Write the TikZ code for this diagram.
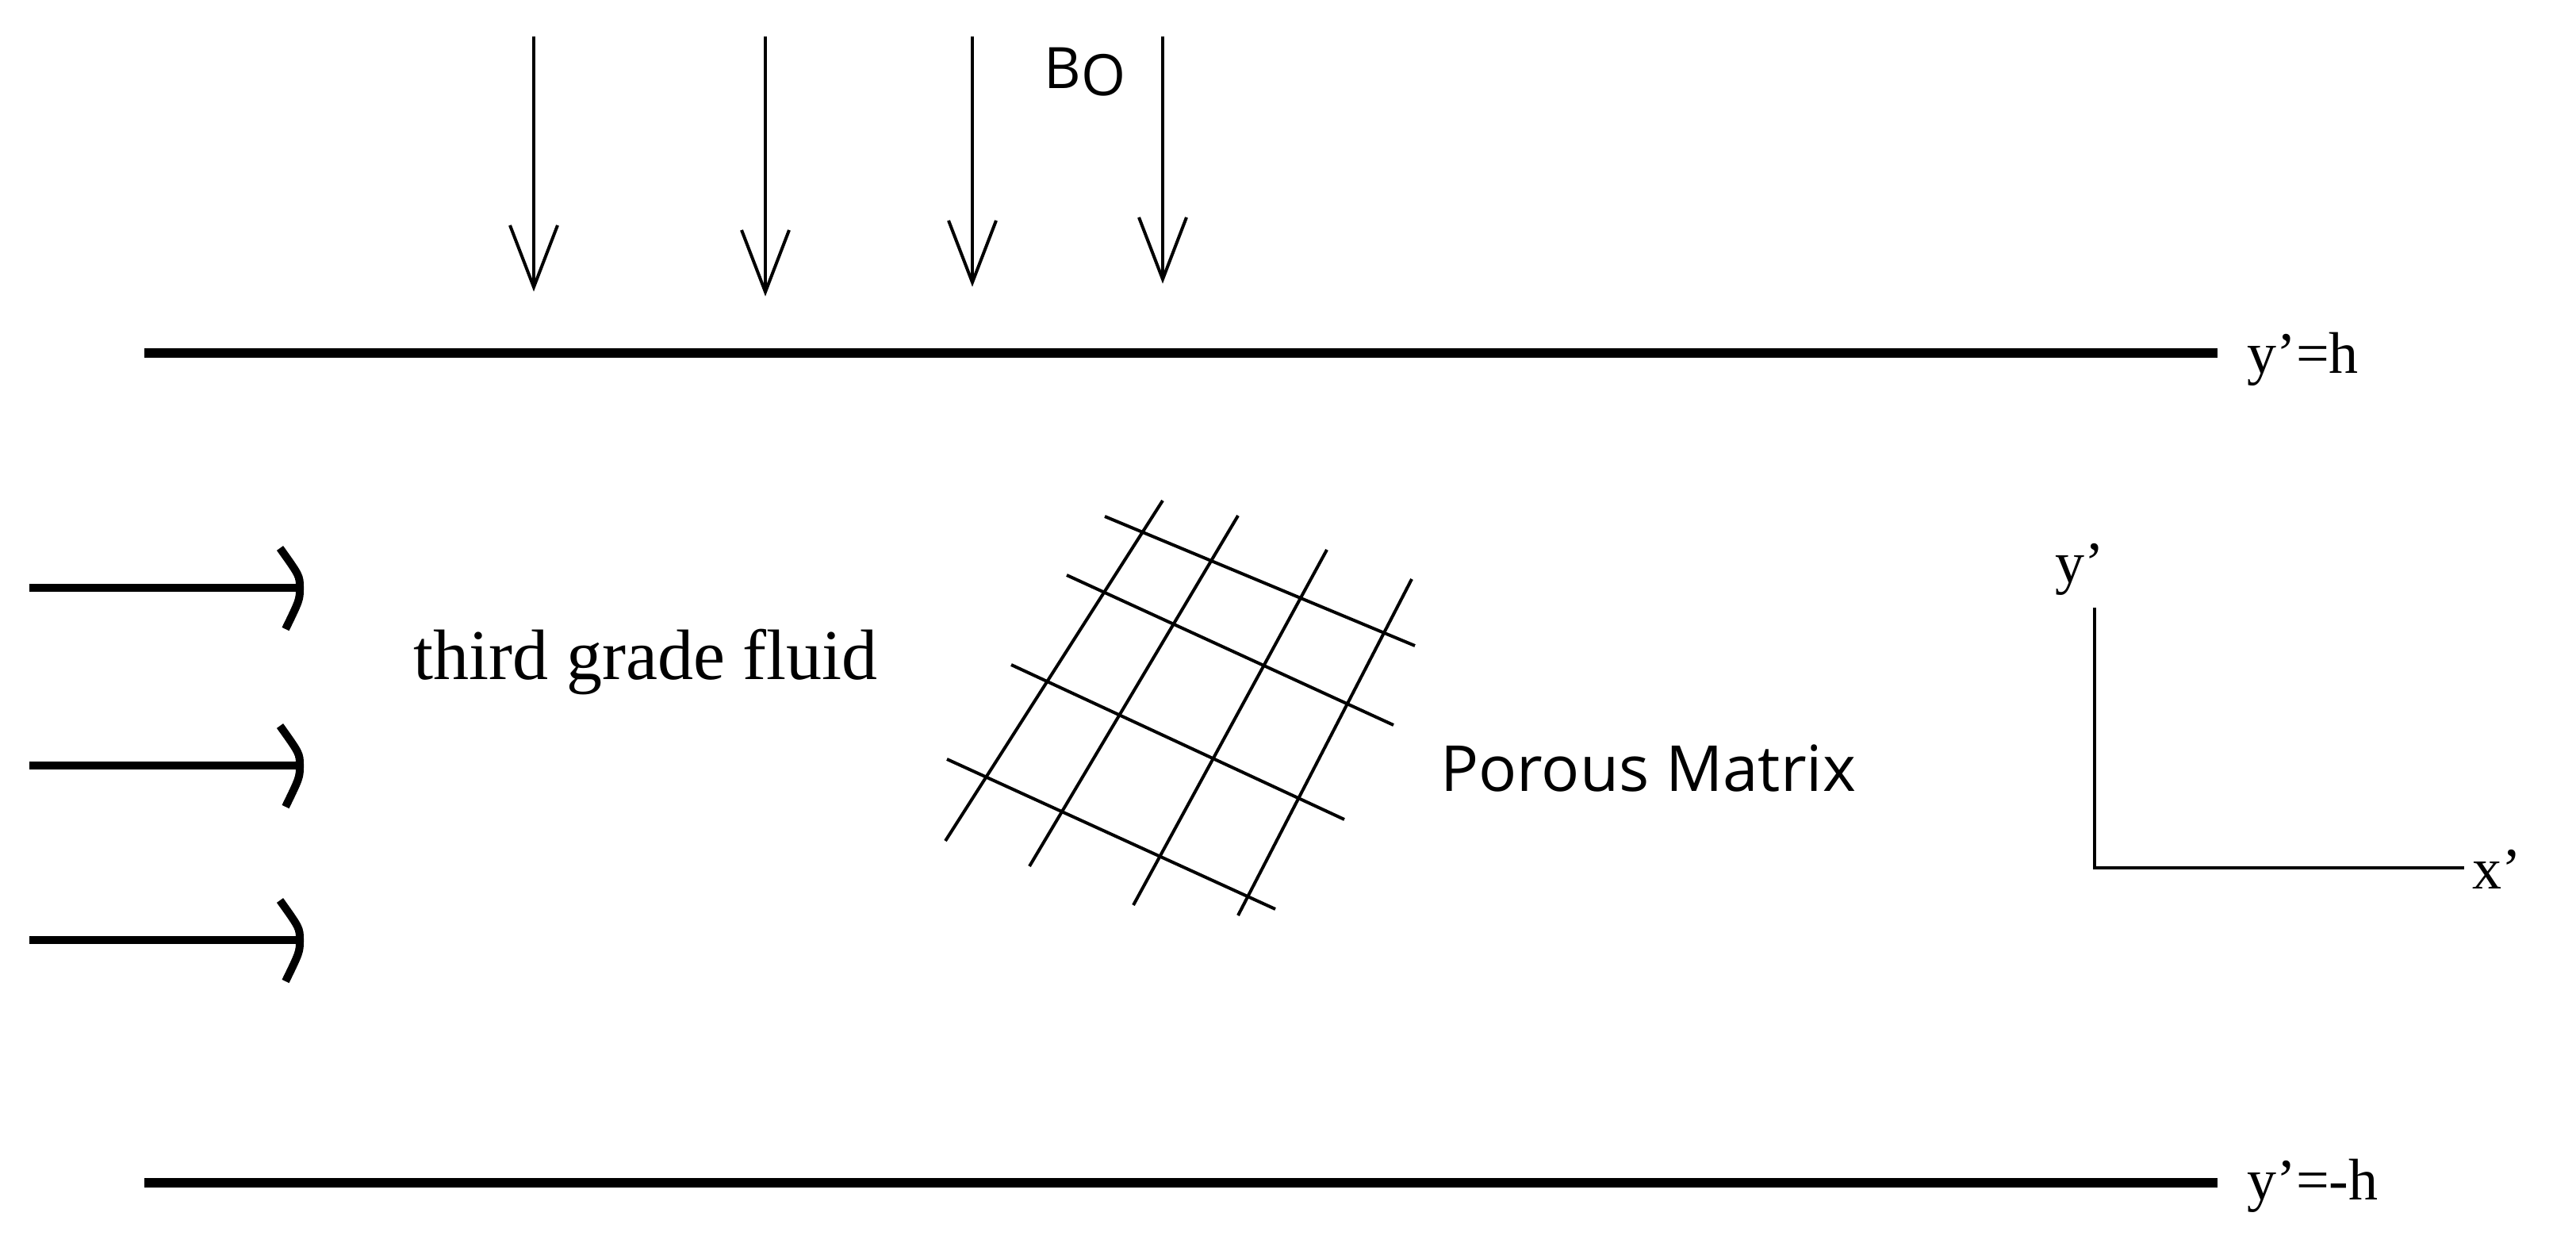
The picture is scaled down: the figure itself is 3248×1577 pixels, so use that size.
\documentclass[tikz,border=0pt]{standalone}
\usepackage{fontspec}
\usetikzlibrary{calc}
\setmainfont{Liberation Serif}
\newfontfamily\osans{Open Sans}
\newcommand{\pr}{{\char"27}}
\begin{document}
\begin{tikzpicture}[x=0.5pt,y=-0.5pt,
  bar/.style={line width=6pt},
  thin/.style={line width=2pt},
  flow/.style={line width=5pt},
  lbl/.style={font=\fontsize{37}{42}\selectfont,inner sep=0pt},
  slbl/.style={font=\osans\fontsize{40}{46}\selectfont,inner sep=0pt}]
\useasboundingbox (0,0) rectangle (3248,1577);
% plates
\coordinate (t1) at (182,445); \coordinate (t2) at (2796,445);
\coordinate (b1) at (182,1491); \coordinate (b2) at (2796,1491);
\draw[bar] (t1) -- (t2);
\draw[bar] (b1) -- (b2);
\node[lbl,anchor=west] (yh) at (2833,453) {y\pr=h};
\node[lbl,anchor=west] (ymh) at (2833,1495) {y\pr=-h};
% magnetic field arrows
\foreach \x/\t [count=\i] in {673/362,965/368,1226/356,1466/352}{
  \coordinate (m\i a) at (\x,46); \coordinate (m\i b) at (\x,\t);
  \draw[thin] (m\i a) -- (m\i b);
  \draw[thin] ($(m\i b)+(-30,-78)$) -- (m\i b) -- ($(m\i b)+(30,-78)$);
}
\node[slbl,anchor=south west,font=\osans\fontsize{36}{40}\selectfont] (B) at (1316,122) {B\raisebox{-0.25ex}{O}};
% flow arrows
\foreach \y [count=\i] in {741,965,1185}{
  \coordinate (f\i a) at (37,\y); \coordinate (f\i b) at (378,\y);
  \draw[flow] (f\i a) -- (f\i b);
  \draw[flow] ($(f\i b)+(-25,-50)$) .. controls ($(f\i b)+(0,-15)$) .. (f\i b)
     .. controls ($(f\i b)+(0,15)$) .. ($(f\i b)+(-18,52)$);
}
\node[font=\fontsize{45}{50}\selectfont,inner sep=0pt] (fluid) at (814,835) {third grade fluid};
% porous matrix grid
\draw[thin] (1393,651) -- (1784,814);
\draw[thin] (1345,725) -- (1757,914);
\draw[thin] (1275,838) -- (1695,1033);
\draw[thin] (1194,957) -- (1608,1146);
\draw[thin] (1466,631) -- (1192,1060);
\draw[thin] (1561,650) -- (1298,1092);
\draw[thin] (1673,693) -- (1429,1141);
\draw[thin] (1780,730) -- (1561,1154);
\node[slbl,anchor=west] (pm) at (1816,969) {Porous Matrix};
% axes
\coordinate (o) at (2641,1094);
\coordinate (ya) at (2641,766);
\coordinate (xa) at (3107,1094);
\draw[thin] (ya) -- (o) -- (xa);
\node[lbl] (yl) at (2622,718) {y\pr};
\node[lbl,anchor=west] (xl) at (3117,1096) {x\pr};
\end{tikzpicture}
\end{document}
